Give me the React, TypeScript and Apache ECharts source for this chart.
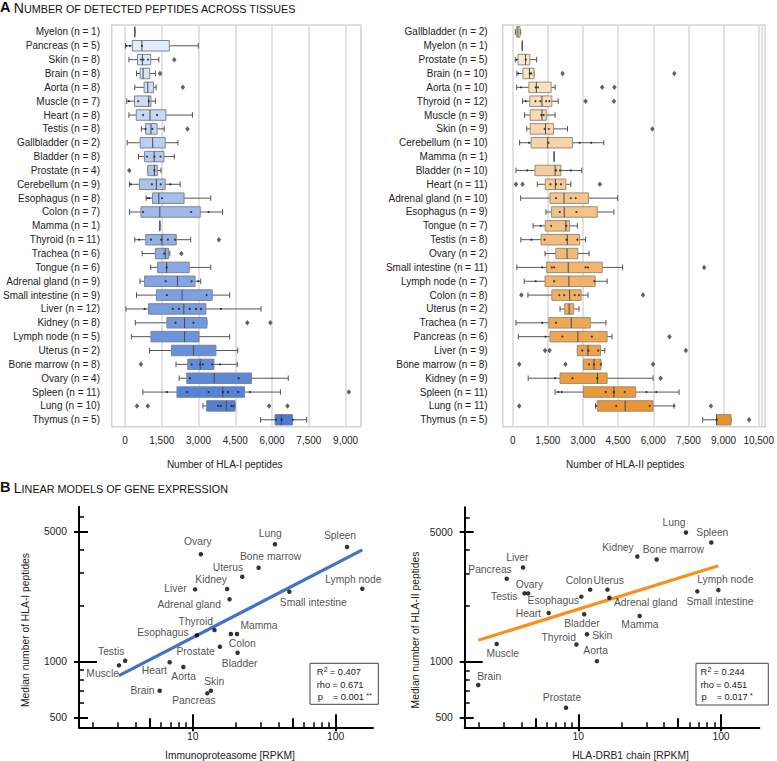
import React, { useEffect, useRef } from "react";
import * as echarts from "echarts";

const FONT = "'Liberation Sans', Arial, Helvetica, sans-serif";

// ---------- Panel A: HLA-I ----------
const tissuesI = [
  "Myelon (n = 1)", "Pancreas (n = 5)", "Skin (n = 8)", "Brain (n = 8)", "Aorta (n = 8)",
  "Muscle (n = 7)", "Heart (n = 8)", "Testis (n = 8)", "Gallbladder (n = 2)", "Bladder (n = 8)",
  "Prostate (n = 4)", "Cerebellum (n = 9)", "Esophagus (n = 8)", "Colon (n = 7)", "Mamma (n = 1)",
  "Thyroid (n = 11)", "Trachea (n = 6)", "Tongue (n = 6)", "Adrenal gland (n = 9)",
  "Small intestine (n = 9)", "Liver (n = 12)", "Kidney (n = 8)", "Lymph node (n = 5)",
  "Uterus (n = 2)", "Bone marrow (n = 8)", "Ovary (n = 4)", "Spleen (n = 11)", "Lung (n = 10)",
  "Thymus (n = 5)",
];
// [min, Q1, median, Q3, max]
const boxI = [
  [400, 400, 400, 400, 400],
  [20, 300, 690, 1810, 2990],
  [160, 510, 710, 1050, 1380],
  [470, 620, 740, 1010, 1240],
  [400, 780, 930, 1160, 1270],
  [70, 390, 970, 1060, 1240],
  [160, 460, 1020, 1670, 2750],
  [670, 840, 1060, 1310, 1600],
  [90, 620, 1130, 1640, 2160],
  [550, 800, 1190, 1590, 2010],
  [930, 930, 1200, 1320, 1470],
  [180, 590, 1280, 1640, 2250],
  [860, 1120, 1380, 2410, 3500],
  [190, 650, 1420, 3070, 3980],
  [1420, 1420, 1420, 1420, 1420],
  [400, 850, 1510, 2090, 2680],
  [700, 1240, 1640, 1780, 1830],
  [1050, 1330, 1700, 2620, 3500],
  [610, 800, 2140, 2860, 3090],
  [470, 1280, 2330, 3560, 4270],
  [40, 960, 2400, 3300, 5550],
  [420, 1710, 2430, 3340, 3340],
  [260, 1060, 2430, 3020, 4270],
  [1000, 1890, 2800, 3710, 4600],
  [2080, 2560, 3070, 3630, 4580],
  [2210, 2520, 3640, 5160, 6660],
  [730, 2120, 3990, 4880, 6340],
  [3180, 3330, 4130, 4490, 4490],
  [5530, 6120, 6380, 6830, 7410],
];
// [value, tissue index]
const outliersI = [
  [2010, 2], [1430, 3], [2360, 4], [2550, 7], [175, 10], [3830, 15], [2300, 16],
  [4990, 21], [5930, 21], [650, 24], [9130, 26], [490, 27], [930, 27], [5880, 27], [6630, 27],
];
// individual samples [value, tissue index]
const samplesI = [
  [60, 1], [200, 1], [690, 1], [650, 2], [755, 2], [940, 2], [160, 5], [540, 5], [970, 5],
  [740, 6], [1310, 6], [840, 7], [1120, 7], [900, 9], [1200, 9], [1450, 9], [1200, 10],
  [240, 11], [1100, 11], [1460, 11], [1850, 11], [920, 12], [1000, 12], [1510, 12],
  [740, 13], [2700, 13], [3410, 13], [580, 15], [1060, 15], [1480, 15], [1750, 15], [2040, 15],
  [1600, 16], [1700, 17], [1660, 18], [2720, 18], [2990, 18], [1710, 19], [3330, 19],
  [800, 20], [1950, 20], [2200, 20], [2640, 20], [2900, 20], [3100, 20], [3910, 20],
  [2060, 21], [2790, 21], [2720, 24], [3060, 24], [3180, 24], [3560, 24], [3880, 24],
  [2650, 25], [4640, 25], [1710, 26], [2530, 26], [3410, 26], [3990, 26], [4200, 26],
  [4620, 26], [5100, 26], [3800, 27], [3910, 27], [4340, 27], [4430, 27],
  [6160, 28], [6390, 28], [6850, 28],
];

// ---------- Panel A: HLA-II ----------
const tissuesII = [
  "Gallbladder (n = 2)", "Myelon (n = 1)", "Prostate (n = 5)", "Brain (n = 10)", "Aorta (n = 10)",
  "Thyroid (n = 12)", "Muscle (n = 9)", "Skin (n = 9)", "Cerebellum (n = 10)", "Mamma (n = 1)",
  "Bladder (n = 10)", "Heart (n = 11)", "Adrenal gland (n = 10)", "Esophagus (n = 9)",
  "Tongue (n = 7)", "Testis (n = 8)", "Ovary (n = 2)", "Small intestine (n = 11)",
  "Lymph node (n = 7)", "Colon (n = 8)", "Uterus (n = 2)", "Trachea (n = 7)", "Pancreas (n = 6)",
  "Liver (n = 9)", "Bone marrow (n = 8)", "Kidney (n = 9)", "Spleen (n = 11)", "Lung (n = 11)",
  "Thymus (n = 5)",
];
const boxII = [
  [110, 170, 225, 310, 340],
  [410, 410, 410, 410, 410],
  [110, 225, 550, 730, 1020],
  [180, 435, 715, 910, 910],
  [170, 690, 1010, 1640, 1810],
  [420, 730, 1250, 1670, 1940],
  [505, 745, 1250, 1430, 1810],
  [600, 745, 1400, 1740, 2340],
  [295, 785, 1490, 2550, 3890],
  [1770, 1770, 1770, 1770, 1770],
  [140, 950, 1810, 2060, 2950],
  [1050, 1390, 1820, 2270, 2480],
  [340, 1590, 2190, 3230, 4480],
  [1420, 1660, 2200, 3610, 4320],
  [870, 1390, 2270, 2430, 2760],
  [350, 1210, 2330, 2860, 3110],
  [1380, 1840, 2320, 2780, 3260],
  [180, 1450, 2370, 3820, 4690],
  [490, 1380, 2400, 3520, 4030],
  [650, 1670, 2430, 2920, 3210],
  [2020, 2220, 2410, 2600, 2830],
  [140, 1540, 2500, 3310, 3980],
  [240, 1590, 2780, 4030, 4240],
  [2760, 2760, 3210, 3750, 3930],
  [3020, 3020, 3470, 3770, 3770],
  [660, 2020, 3620, 4030, 5990],
  [1810, 3020, 4320, 5250, 7100],
  [3540, 3610, 4800, 5990, 6880],
  [8110, 8700, 8700, 9320, 9320],
];
const outliersII = [
  [2130, 3], [6900, 3], [3820, 4], [4340, 4], [3110, 5], [4320, 5], [5960, 7],
  [140, 11], [420, 11], [3720, 11], [8170, 17], [370, 19], [5560, 19], [6690, 22],
  [1380, 23], [1570, 23], [7390, 23], [280, 24], [2250, 24], [5990, 24], [6310, 25],
  [280, 27], [8460, 27], [10090, 28],
];
const samplesII = [
  [170, 2], [560, 2], [240, 3], [730, 3], [800, 3], [350, 4], [980, 4], [1080, 4],
  [560, 5], [970, 5], [1180, 5], [1430, 5], [1570, 5], [1220, 6], [1320, 6], [1360, 7], [1540, 7],
  [700, 8], [1530, 8], [2860, 8], [3350, 8], [620, 10], [1850, 10], [2020, 10], [2480, 10],
  [1610, 11], [1850, 11], [2060, 11], [1850, 12], [2480, 12], [2690, 12], [2010, 13], [2720, 13],
  [1190, 14], [1640, 14], [2290, 14], [800, 15], [1360, 15], [2300, 15], [2760, 15],
  [1260, 17], [1670, 17], [1770, 17], [3110, 17], [3210, 17], [980, 18], [1770, 18], [3490, 18],
  [1990, 19], [2200, 19], [2650, 19], [2830, 19], [1260, 21], [1850, 21], [1400, 22], [2120, 22],
  [3380, 22], [2970, 23], [3230, 23], [3650, 23], [3260, 24], [3470, 24], [3760, 24],
  [1810, 25], [2550, 25], [3610, 25], [1950, 26], [2090, 26], [3970, 26], [4320, 26], [4780, 26],
  [5710, 26], [6130, 26], [3550, 27], [4420, 27], [5850, 27], [6900, 27], [8700, 28],
];

// ---------- Panel B: linear models ----------
const namesB1 = [
  "Lung", "Spleen", "Ovary", "Bone marrow", "Uterus", "Kidney", "Liver", "Lymph node",
  "Small intestine", "Adrenal gland", "Thyroid", "Esophagus", "Mamma", "Colon", "Bladder",
  "Prostate", "Testis", "Muscle", "Heart", "Aorta", "Brain", "Skin", "Pancreas",
];
const immunoRPKM = [
  37.6, 120, 11.4, 28.9, 22.2, 17.4, 10.4, 153.5, 47.4, 18.1, 14.2, 10.7, 20.4, 18.5, 20.6,
  15.5, 3.37, 3.05, 6.9, 8.6, 5.88, 13.4, 12.65,
];
const medianHLAI = [
  4277, 4137, 3780, 3202, 2864, 2459, 2449, 2469, 2378, 2165, 1481, 1387, 1409, 1409, 1118,
  1204, 1012, 956, 993, 936, 698, 698, 676,
];
const trendB1 = [[3.05, 841], [153.5, 3990]];
const statsB1 = ["0.407", "0.671", "0.001", "**"];

const namesB2 = [
  "Lung", "Spleen", "Kidney", "Bone marrow", "Liver", "Pancreas", "Ovary", "Testis", "Colon",
  "Uterus", "Esophagus", "Adrenal gland", "Lymph node", "Small intestine", "Heart", "Bladder",
  "Mamma", "Skin", "Thyroid", "Muscle", "Aorta", "Brain", "Prostate",
];
const drb1RPKM = [
  56.8, 85.5, 25.9, 35.4, 4.1, 3.15, 4.45, 4.2, 12.1, 16.0, 10.5, 16.5, 95.8, 68.2, 6.2, 11.0,
  26.9, 11.5, 9.7, 2.68, 13.5, 1.99, 8.2,
];
const medianHLAII = [
  4980, 4401, 3700, 3566, 3230, 2809, 2340, 2340, 2451, 2451, 2247, 2218, 2437, 2400, 1834,
  1805, 1767, 1409, 1240, 1249, 1009, 750, 566,
];
const trendB2 = [[1.99, 1308], [95.8, 3300]];
const statsB2 = ["0.244", "0.451", "0.017", "*"];

const xMajor = [10, 100];
const xMid = [5, 50];
const xMinor = [2, 3, 4, 6, 7, 8, 9, 20, 30, 40, 60, 70, 80, 90];
const yLabels = [500, 1000, 5000];
const yMinor = [600, 700, 800, 900, 2000, 3000, 4000, 6000];

// label offsets (label centre relative to the point), pixels
const labelOffB1: Record<string, [number, number]> = {
  Lung: [-4.7, -11], Spleen: [-7, -11.3], Ovary: [-3, -12.3], "Bone marrow": [12, -11],
  Uterus: [-14.3, -9], Kidney: [-16, -10], Liver: [-19.7, -1.3], "Lymph node": [-9, -8.7],
  "Small intestine": [24, 10.7], "Adrenal gland": [-40.3, 5.3], Thyroid: [-18.7, -8.3],
  Esophagus: [-34, -2.7], Mamma: [22, -8.7], Colon: [11.3, 9.7], Bladder: [2, 11.3],
  Prostate: [-24.3, 5], Testis: [-14, -9.7], Muscle: [-16.3, 8], Heart: [-15.3, 8],
  Aorta: [0.3, 9], Brain: [-17.3, -0.3], Skin: [3.3, -9.7], Pancreas: [-13.3, 7],
};
const labelOffB2: Record<string, [number, number]> = {
  Lung: [-12, -10], Spleen: [1, -10], Kidney: [-19.3, -9], "Bone marrow": [16.7, -10],
  Liver: [-5.7, -10.3], Pancreas: [-16.7, -9.3], Ovary: [1.3, -9], Testis: [-20.3, 3],
  Colon: [-11, -9], Uterus: [1.3, -9.3], Esophagus: [-28, 4.3], "Adrenal gland": [36.3, 5],
  "Lymph node": [7, -10.7], "Small intestine": [22.7, 10], Heart: [-20.3, 0], Bladder: [-2.3, 9.3],
  Mamma: [0.3, 8.3], Skin: [15.3, 1.7], Thyroid: [-17.7, -7], Muscle: [6, 9.7],
  Aorta: [-1.3, -10.3], Brain: [11, -8.7], Prostate: [-4, -10.3],
};

function mix(a: string, b: string, t: number) {
  const p = (c: string) => [1, 3, 5].map((i) => parseInt(c.slice(i, i + 2), 16));
  const A = p(a), B = p(b);
  return "rgb(" + A.map((v, i) => Math.round(v + (B[i] - v) * t)).join(",") + ")";
}

function boxSeries(boxes: number[][], axisIdx: number, c0: string, c1: string, border: string) {
  const n = boxes.length;
  return {
    type: "custom",
    xAxisIndex: axisIdx,
    yAxisIndex: axisIdx,
    encode: { x: [1, 2, 3, 4, 5], y: 0 },
    data: boxes.map((b, i) => [i, ...b]),
    renderItem: (params: any, api: any) => {
      const ci = api.value(0);
      const p = [1, 2, 3, 4, 5].map((k) => api.coord([api.value(k), ci]));
      const y = p[0][1];
      const h = 10.5;
      const cap = 2.8;
      const fill = mix(c0, c1, ci / (n - 1));
      const w = { stroke: "#555", lineWidth: 1 };
      return {
        type: "group",
        children: [
          { type: "line", shape: { x1: p[0][0], y1: y, x2: p[1][0], y2: y }, style: w },
          { type: "line", shape: { x1: p[3][0], y1: y, x2: p[4][0], y2: y }, style: w },
          { type: "line", shape: { x1: p[0][0], y1: y - cap, x2: p[0][0], y2: y + cap }, style: w },
          { type: "line", shape: { x1: p[4][0], y1: y - cap, x2: p[4][0], y2: y + cap }, style: w },
          {
            type: "rect",
            shape: { x: p[1][0], y: y - h / 2, width: p[3][0] - p[1][0], height: h },
            style: { fill, stroke: border, lineWidth: 1 },
          },
          { type: "line", shape: { x1: p[2][0], y1: y - h / 2, x2: p[2][0], y2: y + h / 2 }, style: { stroke: "#4a4a4a", lineWidth: 1 } },
        ],
      };
    },
  };
}

function valueAxis(gridIndex: number, max: number) {
  return {
    type: "value",
    gridIndex,
    min: 0,
    max,
    interval: 1500,
    axisLine: { show: false },
    axisTick: { show: false },
    splitLine: { show: true, lineStyle: { color: "#d9d9d9", width: 1.5 } },
    axisLabel: {
      fontSize: 10, color: "#222", fontFamily: FONT, margin: 9, showMaxLabel: false,
      formatter: (v: number) => v.toLocaleString("en-US"),
    },
  };
}
function catAxis(gridIndex: number, data: string[]) {
  return {
    type: "category",
    gridIndex,
    data,
    inverse: true,
    axisLine: { show: false },
    axisTick: { show: false },
    splitLine: { show: false },
    axisLabel: { fontSize: 10, color: "#222", fontFamily: FONT, margin: 25, interval: 0 },
  };
}

function logAxes(dim: "x" | "y", gridIndex: number, min: number, max: number) {
  const pos = dim === "x" ? "bottom" : "left";
  const base = (o: any) => ({
    type: "log",
    gridIndex,
    min,
    max,
    position: pos,
    splitLine: { show: false },
    axisLine: { show: false, onZero: false },
    axisLabel: { show: false },
    ...o,
  });
  const tick = (vals: number[], inside: boolean, length: number, width: number) => ({
    show: true, customValues: vals, inside, length, lineStyle: { color: "#000", width },
  });
  const labelVals = dim === "x" ? xMajor : yLabels;
  const main = base({
    axisLine: { show: true, onZero: false, lineStyle: { color: "#000", width: 2 } },
    axisLabel: {
      show: true, customValues: labelVals, fontSize: 10.3, color: "#222", fontFamily: FONT,
      margin: dim === "x" ? 4 : 12, formatter: (v: number) => String(Math.round(v)),
    },
    axisTick: dim === "x" ? tick(xMajor, true, 13, 2) : tick([500, 5000], true, 9, 2),
  });
  if (dim === "x") {
    return [
      main,
      base({ axisTick: tick(xMajor, false, 4, 2) }),
      base({ axisTick: tick(xMid, true, 9, 2) }),
      base({ axisTick: tick(xMinor, true, 5, 1.5) }),
    ];
  }
  return [
    main,
    base({ axisTick: tick([1000], true, 18, 2) }),
    base({ axisTick: tick(yLabels, false, 5, 2) }),
    base({ axisTick: tick(yMinor, true, 5, 1.5) }),
  ];
}

function scatterSeries(axisIdx: number, names: string[], xs: number[], ys: number[], offs: Record<string, [number, number]>) {
  return {
    type: "scatter",
    xAxisIndex: axisIdx,
    yAxisIndex: axisIdx,
    symbolSize: 4.5,
    itemStyle: { color: "#000" },
    z: 5,
    label: {
      show: true, position: "inside", formatter: "{b}", fontSize: 10.3, color: "#222",
      fontFamily: FONT, align: "center", verticalAlign: "middle",
    },
    data: names.map((n, i) => ({ name: n, value: [xs[i], ys[i]], label: { offset: offs[n] || [0, 0] } })),
  };
}
function trendSeries(axisIdx: number, pts: number[][], color: string) {
  return {
    type: "line",
    xAxisIndex: axisIdx,
    yAxisIndex: axisIdx,
    data: pts,
    symbol: "none",
    z: 3,
    lineStyle: { color, width: 3.2 },
  };
}
function dotSeries(axisIdx: number, data: number[][], symbol: string, size: any, color: string) {
  return {
    type: "scatter", xAxisIndex: axisIdx, yAxisIndex: axisIdx, symbol, symbolSize: size,
    itemStyle: { color }, data, z: 4,
  };
}

function titleText(x: number, y: number, big: string, first: string, rest: string) {
  return {
    type: "text",
    x,
    y,
    style: {
      text: `{a|${big}} {b|${first}}{c|${rest}}`,
      verticalAlign: "middle",
      rich: {
        a: { fontSize: 14.5, fontWeight: "bold", fontFamily: FONT, fill: "#111", verticalAlign: "bottom", lineHeight: 15 },
        b: { fontSize: 14, fontFamily: FONT, fill: "#111", verticalAlign: "bottom", lineHeight: 15 },
        c: { fontSize: 10.8, fontFamily: FONT, fill: "#111", verticalAlign: "bottom", lineHeight: 12.6 },
      },
    },
  };
}
function txt(x: number, y: number, text: string, size = 10.3, extra: any = {}) {
  return {
    type: "text",
    x,
    y,
    ...extra,
    style: { text, fontSize: size, fontFamily: FONT, fill: "#222", verticalAlign: "middle", ...(extra.style || {}) },
  };
}
function statBox(x: number, y: number, w: number, h: number, tx: number, stats: string[]) {
  const fs = 9.3;
  return [
    { type: "rect", shape: { x, y, width: w, height: h }, style: { fill: "#fff", stroke: "#444", lineWidth: 1 } },
    txt(tx, y + 9, "R", fs),
    txt(tx + 7, y + 6, "2", 7),
    txt(tx + 13, y + 9, "= " + stats[0], fs),
    txt(tx, y + 21.3, "rho", fs),
    txt(tx + 15.5, y + 21.3, "= " + stats[1], fs),
    txt(tx + 1, y + 33.7, "p", fs),
    txt(tx + 16, y + 33.7, "= " + stats[2], fs),
    txt(tx + 49.5, y + 32.3, stats[3], 7),
  ];
}

export default function App() {
  const ref = useRef<HTMLDivElement>(null);
  useEffect(() => {
    document.body.style.margin = "0";
    const chart = echarts.init(ref.current!, null, { renderer: "svg" });
    const bX1 = logAxes("x", 2, 1.603, 182.3);
    const bY1 = logAxes("y", 2, 444, 6813);
    const bX2 = logAxes("x", 3, 1.599, 185.5);
    const bY2 = logAxes("y", 3, 444, 6813);
    const option: any = {
      animation: false,
      backgroundColor: "#fff",
      textStyle: { fontFamily: FONT },
      grid: [
        { left: 122.7, right: 416.3, top: 25, height: 401.7 },
        { left: 512.7, right: 12, top: 25, height: 401.7 },
        { left: 79, right: 404, top: 506.7, bottom: 33.7 },
        { left: 464.7, right: 17.7, top: 507.3, bottom: 33.7 },
      ],
      xAxis: [valueAxis(0, 9615), valueAxis(1, 10617), ...bX1, ...bX2],
      yAxis: [catAxis(0, tissuesI), catAxis(1, tissuesII), ...bY1, ...bY2],
      series: [
        boxSeries(boxI, 0, "#eaf0fb", "#4a7bd3", "#7b8599"),
        boxSeries(boxII, 1, "#fdedda", "#e8922c", "#9d8d7c"),
        dotSeries(0, outliersI, "diamond", [4.5, 5.5], "#3a3a3a"),
        dotSeries(1, outliersII, "diamond", [4.5, 5.5], "#3a3a3a"),
        dotSeries(0, samplesI, "circle", 2.2, "#1a1a1a"),
        dotSeries(1, samplesII, "circle", 2.2, "#1a1a1a"),
        trendSeries(2, trendB1, "#4472c4"),
        scatterSeries(2, namesB1, immunoRPKM, medianHLAI, labelOffB1),
        trendSeries(6, trendB2, "#f7901e"),
        scatterSeries(6, namesB2, drb1RPKM, medianHLAII, labelOffB2),
      ],
      graphic: [
        { type: "rect", silent: true, shape: { x: 111.7, y: 25, width: 249, height: 401.7 }, style: { fill: "none", stroke: "#d4d4d4", lineWidth: 1.5 } },
        { type: "rect", silent: true, shape: { x: 502.7, y: 25, width: 262.3, height: 401.7 }, style: { fill: "none", stroke: "#d4d4d4", lineWidth: 1.5 } },
        titleText(0, 7, "A", "N", "UMBER OF DETECTED PEPTIDES ACROSS TISSUES"),
        titleText(0, 487.3, "B", "L", "INEAR MODELS OF GENE EXPRESSION"),
        txt(224.7, 464.3, "Number of HLA-I peptides", 10, { style: { align: "center" } }),
        txt(625.3, 464.3, "Number of HLA-II peptides", 10, { style: { align: "center" } }),
        txt(230, 755.7, "Immunoproteasome [RPKM]", 10.3, { style: { align: "center" } }),
        txt(630.5, 755.7, "HLA-DRB1 chain [RPKM]", 10.3, { style: { align: "center" } }),
        txt(25, 630, "Median number of HLA-I peptides", 10.3, { rotation: Math.PI / 2, style: { align: "center" } }),
        txt(415, 630, "Median number of HLA-II peptides", 10.3, { rotation: Math.PI / 2, style: { align: "center" } }),
        ...statBox(310, 663.3, 68.3, 41, 316.7, statsB1),
        ...statBox(696, 663.3, 72.3, 41.7, 700.5, statsB2),
      ],
    };
    chart.setOption(option);
    return () => chart.dispose();
  }, []);
  return <div ref={ref} style={{ width: 777, height: 761 }} />;
}
